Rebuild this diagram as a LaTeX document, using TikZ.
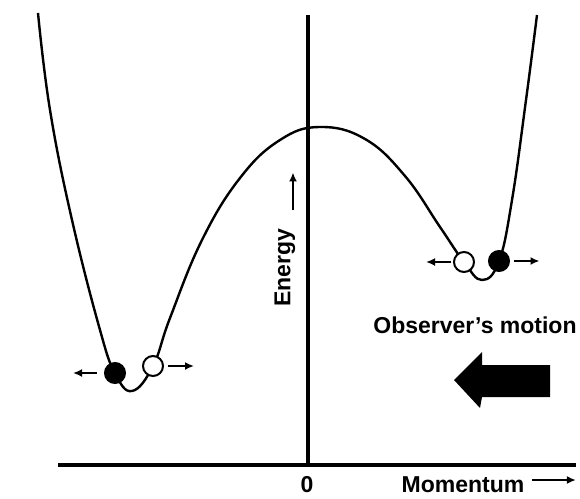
\documentclass[tikz,border=0pt]{standalone}
\usepackage{fontspec}
\setmainfont{Liberation Sans}
\usetikzlibrary{arrows.meta, positioning}

\begin{document}
\begin{tikzpicture}[x=1pt, y=-1pt,
    every node/.style={font=\fontsize{23}{26}\selectfont\bfseries},
    curve/.style={line width=2.4pt, line join=round},
    axis/.style={line width=3.6pt},
    ball/.style={circle, draw, line width=2pt, minimum size=20pt, inner sep=0pt},
    hole/.style={ball, fill=white},
    electron/.style={ball, fill=black},
    push/.style={-{Latex[length=9pt, width=8pt]}, line width=2.4pt}
]
    \useasboundingbox (0,0) rectangle (580,498);

    % axes
    \coordinate (ytop) at (308,15);
    \coordinate (origin) at (308,465);
    \coordinate (xleft) at (58,465);
    \coordinate (xright) at (576,465);
    \draw[axis] (ytop) -- (origin);
    \draw[axis] (xleft) -- (xright);

    % energy curve
    \draw[curve] plot[smooth, tension=0.7] coordinates {(38,13) (50,110) (72,220) (100,330) (115,373) (132,391) (153,366) (170,318) (202,240) (240,178) (280,140) (320,127) (365,139) (405,176) (440,227) (464,262) (482,280) (499,261) (512,200) (526,100) (537,15)};

    % balls
    \node[electron] (eL) at (115,373) {};
    \node[hole] (hL) at (153,366) {};
    \node[hole] (hR) at (464,262) {};
    \node[electron] (eR) at (499,261) {};

    \draw[push] ([xshift=-7pt]eL.west) -- ++(-24,0);
    \draw[push] ([xshift=4pt]hL.east) -- ++(26,0);
    \draw[push] ([xshift=-2pt]hR.west) -- ++(-25,0);
    \draw[push] ([xshift=3.5pt]eR.east) -- ++(26,0);

    % labels
    \node (zero) at (307,485) {0};
    \node (mom) at (463,485) {Momentum};
    \node (obs) at (475,325) {Observer's motion};
    \node[rotate=90] (energy) at (285,268) {Energy};

    \draw[push] ([xshift=8pt, yshift=15pt]energy.east) -- ++(0,-38);
    \draw[push] ([xshift=4pt, yshift=5pt]mom.east) -- ++(44,0);

    % observer arrow
    \fill (454,380) -- (482,352) -- (482,365) -- (550,365) -- (550,397) -- (482,397) -- (480,408) -- cycle;
\end{tikzpicture}
\end{document}
